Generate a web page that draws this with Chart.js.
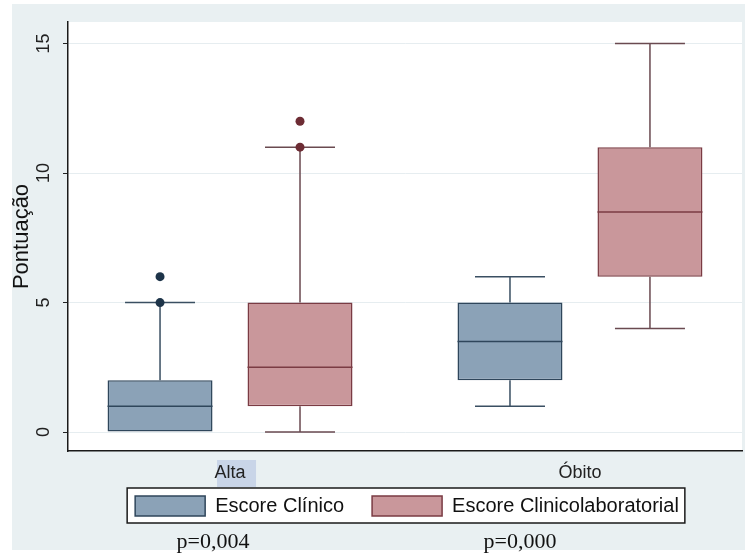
<!DOCTYPE html>
<html>
<head>
<meta charset="utf-8">
<script src="https://cdn.jsdelivr.net/npm/chart.js@4.4.1/dist/chart.umd.min.js"></script>
<style>
  html, body { margin: 0; padding: 0; background: #fff; }
  canvas { display: block; }
</style>
</head>
<body>
<canvas id="myChart" width="750" height="559"></canvas>
<script>
const groups = ['Alta', 'Óbito']
const groupPos = [1, 2]
const seriesNames = ['Escore Clínico', 'Escore Clinicolaboratorial']

// Escore Clínico (box stats per group)
const clinicoMin = [0, 1]
const clinicoQ1 = [0, 2]
const clinicoMed = [1, 3.5]
const clinicoQ3 = [2, 5]
const clinicoMax = [5, 6]
const clinicoOut = [[5, 6], []]

// Escore Clinicolaboratorial
const labMin = [0, 4]
const labQ1 = [1, 6]
const labMed = [2.5, 8.5]
const labQ3 = [5, 11]
const labMax = [11, 15]
const labOut = [[11, 12], []]

const yTicks = [0, 5, 10, 15]
const pValues = ['p=0,004', 'p=0,000']

Chart.defaults.font.family = "'Liberation Sans', Arial, sans-serif"

const ctx = document.querySelector('#myChart')

// panel colours, legend frame, "Alta" highlight
const backdrop = {
    id: 'backdrop',
    afterLayout(chart) {
        // pull the legend up under the axis labels (its padding also sets the item gap)
        const lg = chart.legend
        lg.top -= 20; lg.bottom -= 20
        lg.left += 2; lg.right += 2
    },
    beforeDraw(chart) {
        const c = chart.ctx, a = chart.chartArea
        c.save()
        c.fillStyle = '#ffffff'
        c.fillRect(0, 0, chart.width, chart.height)
        c.fillStyle = '#e9f0f2'
        c.fillRect(12, 4, 733, 546)
        c.fillStyle = '#ffffff'
        c.fillRect(a.left, a.top, a.right - a.left, a.bottom - a.top)

        const xa = chart.scales.x.getPixelForValue(groupPos[0])
        c.fillStyle = '#c9d5e8'
        c.fillRect(xa - 13, 460, 39, 27)

        const hb = chart.legend.legendHitBoxes
        if (hb && hb.length) {
            const first = hb[0], last = hb[hb.length - 1]
            const l = first.left - 8, t = first.top - 8
            const r = last.left + last.width + 6, b = first.top + first.height + 7
            c.fillStyle = '#ffffff'
            c.fillRect(l, t, r - l, b - t)
            c.strokeStyle = '#1a1a1a'
            c.lineWidth = 1.5
            c.strokeRect(l, t, r - l, b - t)
        }
        c.restore()
    },
    afterDraw(chart) {
        const c = chart.ctx
        const px = [213, 520]
        c.save()
        c.fillStyle = '#111'
        c.font = "22px 'Liberation Serif', 'Times New Roman', serif"
        c.textAlign = 'center'
        c.textBaseline = 'alphabetic'
        pValues.forEach((t, i) => c.fillText(t, px[i], 548))
        c.restore()
    }
}

// whiskers, medians and outliers on top of the floating bars
const boxPlot = {
    id: 'boxPlot',
    afterDatasetsDraw(chart) {
        const c = chart.ctx, y = chart.scales.y
        chart.data.datasets.forEach((ds, d) => {
            chart.getDatasetMeta(d).data.forEach((bar, i) => {
                const x = bar.x, half = bar.width / 2, cap = bar.width / 3
                const q1 = ds.data[i].y[0], q3 = ds.data[i].y[1]
                const yHi = y.getPixelForValue(ds.whiskHi[i])
                const yLo = y.getPixelForValue(ds.whiskLo[i])
                c.save()
                c.strokeStyle = ds.whiskerColor
                c.lineWidth = 1.5
                c.beginPath()
                if (ds.whiskHi[i] > q3) {
                    c.moveTo(x, y.getPixelForValue(q3)); c.lineTo(x, yHi)
                    c.moveTo(x - cap, yHi); c.lineTo(x + cap, yHi)
                }
                if (ds.whiskLo[i] < q1) {
                    c.moveTo(x, y.getPixelForValue(q1)); c.lineTo(x, yLo)
                    c.moveTo(x - cap, yLo); c.lineTo(x + cap, yLo)
                }
                c.stroke()

                const ym = y.getPixelForValue(ds.median[i])
                c.strokeStyle = ds.borderColor
                c.beginPath()
                c.moveTo(x - half, ym); c.lineTo(x + half, ym)
                c.stroke()

                c.fillStyle = ds.outlierColor
                ds.outliers[i].forEach(v => {
                    c.beginPath()
                    c.arc(x, y.getPixelForValue(v), 4.5, 0, Math.PI * 2)
                    c.fill()
                })
                c.restore()
            })
        })
    }
}

new Chart(ctx, {
    type: 'bar',
    data: {
        datasets: [{
            label: seriesNames[0],
            data: groupPos.map((g, i) => ({ x: g, y: [clinicoQ1[i], clinicoQ3[i]] })),
            backgroundColor: '#8ba2b7',
            borderColor: '#2f465b',
            borderWidth: 1.5,
            borderSkipped: false,
            whiskLo: clinicoMin, whiskHi: clinicoMax, median: clinicoMed, outliers: clinicoOut,
            whiskerColor: '#3a4f62', outlierColor: '#1d3449'
        }, {
            label: seriesNames[1],
            data: groupPos.map((g, i) => ({ x: g, y: [labQ1[i], labQ3[i]] })),
            backgroundColor: '#c9979b',
            borderColor: '#7a3b43',
            borderWidth: 1.5,
            borderSkipped: false,
            whiskLo: labMin, whiskHi: labMax, median: labMed, outliers: labOut,
            whiskerColor: '#6a4a50', outlierColor: '#6d2c34'
        }]
    },
    options: {
        responsive: false,
        animation: false,
        categoryPercentage: 0.8,
        barPercentage: 0.75,
        layout: { padding: { top: 22, right: 8, bottom: 13, left: 0 } },
        scales: {
            x: {
                type: 'linear',
                min: 0.537,
                max: 2.463,
                offset: false,
                grid: { display: false, drawTicks: false },
                border: { display: true, color: '#1a1a1a', width: 1.5 },
                afterBuildTicks: s => { s.ticks = groupPos.map(v => ({ value: v })) },
                ticks: {
                    callback: (v, i) => groups[i],
                    padding: 11,
                    color: '#222',
                    font: { size: 18 },
                    maxRotation: 0,
                    autoSkip: false
                },
                afterFit: s => { s.height = 37 }
            },
            y: {
                min: -0.73,
                max: 15.83,
                afterBuildTicks: s => { s.ticks = yTicks.map(v => ({ value: v })) },
                grid: { color: '#e6edf0', tickColor: '#222', tickLength: 5, lineWidth: 1 },
                border: { color: '#1a1a1a', width: 1.5 },
                ticks: {
                    minRotation: 90,
                    maxRotation: 90,
                    crossAlign: 'center',
                    padding: 8.5,
                    color: '#222',
                    font: { size: 18 }
                },
                title: {
                    display: true,
                    text: 'Pontuação',
                    color: '#111',
                    font: { size: 22 },
                    padding: { top: 9, bottom: 0 }
                },
                afterFit: s => { s.width = 68 }
            }
        },
        plugins: {
            legend: {
                position: 'bottom',
                fullSize: false,
                labels: {
                    boxWidth: 70,
                    boxHeight: 20,
                    padding: 28,
                    color: '#111',
                    font: { size: 20 }
                }
            },
            tooltip: { enabled: false }
        }
    },
    plugins: [backdrop, boxPlot]
})
</script>
</body>
</html>
